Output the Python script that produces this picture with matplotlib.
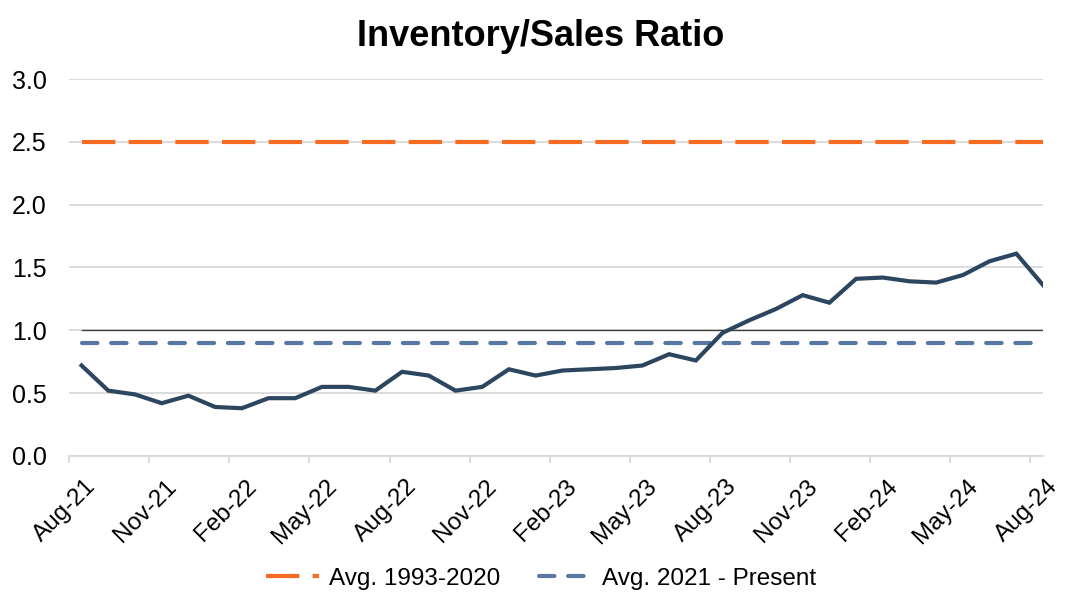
import numpy as np
import matplotlib.pyplot as plt
from matplotlib.transforms import ScaledTranslation

plt.rcParams['font.family'] = ['Liberation Sans', 'DejaVu Sans']

# monthly inventory/sales ratio, Aug-21 .. Aug-24
ratio = [0.72, 0.52, 0.49, 0.42, 0.48, 0.39, 0.38, 0.46, 0.46, 0.55,
         0.55, 0.52, 0.67, 0.64, 0.52, 0.55, 0.69, 0.64, 0.68, 0.69,
         0.70, 0.72, 0.81, 0.76, 0.98, 1.08, 1.17, 1.28, 1.22, 1.41,
         1.42, 1.39, 1.38, 1.44, 1.55, 1.61, 1.36]
avg_1993_2020 = 2.5
avg_2021_now = 0.9
tick_labels = ['Aug-21', 'Nov-21', 'Feb-22', 'May-22', 'Aug-22', 'Nov-22', 'Feb-23',
               'May-23', 'Aug-23', 'Nov-23', 'Feb-24', 'May-24', 'Aug-24']

x = np.arange(len(ratio))

fig = plt.figure(figsize=(10.82, 6.11), dpi=100)
ax = fig.add_axes([0.0638, 0.2537, 0.9002, 0.617])

ax.plot(x, [avg_1993_2020] * len(x), color='#F36C21', lw=3.0, dashes=(8, 3.2),
        label='Avg. 1993-2020', solid_capstyle='butt')
ax.plot(x, [1.0] * len(x), color='#404040', lw=1.0)
ax.plot(x, [avg_2021_now] * len(x), color='#5877A3', lw=3.0, dashes=(3.7, 3.3),
        dash_capstyle='round', label='Avg. 2021 - Present')
ax.plot(x, ratio, color='#2C465F', lw=3.0, solid_joinstyle='miter')

ax.set_xlim(-0.47, len(x) - 1)
ax.set_ylim(0, 3)
ax.set_yticks(np.arange(0, 3.01, 0.5))
ax.set_yticklabels([f'{v:.1f}' for v in np.arange(0, 3.01, 0.5)], fontsize=18)
ax.yaxis.grid(True, color='#D9D9D9', lw=1.3)
ax.set_axisbelow(True)
ax.tick_params(axis='y', length=0, pad=16)

ax.set_xticks(np.arange(0, len(x), 3) - 0.47)
ax.set_xticklabels(tick_labels, rotation=45, ha='right', rotation_mode='anchor', fontsize=17.5)
ax.tick_params(axis='x', length=5, color='#D9D9D9', width=1.3, pad=9)
shift = ScaledTranslation(0.16, 0, fig.dpi_scale_trans)
for lbl in ax.get_xticklabels():
    lbl.set_transform(lbl.get_transform() + shift)

for s in ['top', 'right', 'left']:
    ax.spines[s].set_visible(False)
ax.spines['bottom'].set_color('#D9D9D9')
ax.spines['bottom'].set_linewidth(1.3)

fig.suptitle('Inventory/Sales Ratio', fontsize=26, fontweight='bold', y=0.94, va='center')
fig.legend(loc='center', bbox_to_anchor=(0.5, 0.053), ncol=2, frameon=False,
           fontsize=17.5, handlelength=2.2, columnspacing=1.6, handletextpad=0.4)

plt.savefig('out.png', dpi=100)
